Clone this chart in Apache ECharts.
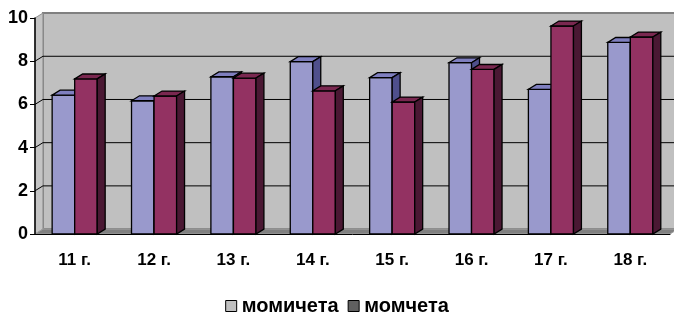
<!DOCTYPE html>
<html>
<head>
<meta charset="utf-8">
<script src="https://cdn.jsdelivr.net/npm/echarts@6/dist/echarts.min.js"></script>
<style>
    html, body { margin: 0; padding: 0; background: #fff; }
    #chart { width: 674px; height: 314px; }
</style>
</head>
<body>
<div id="chart"></div>
<script>
// ========================================
// data
// ========================================

const categories = ["11 г.", "12 г.", "13 г.", "14 г.", "15 г.", "16 г.", "17 г.", "18 г."];
const girls = [6.43, 6.17, 7.28, 7.98, 7.24, 7.93, 6.70, 8.87];
const boys = [7.18, 6.39, 7.22, 6.63, 6.11, 7.62, 9.63, 9.12];
const seriesNames = ["момичета", "момчета"];
const yMax = 10;
const yStep = 2;

// ========================================
// colours
// ========================================

const faces = [
    { front: "#9999cc", top: "#7f7fbf", side: "#4f4f8c", legend: "#c0c0c0" },
    { front: "#933262", top: "#7a2850", side: "#4a1833", legend: "#606060" }
];

// ========================================
// 3D bar
// ========================================

function barRenderer(s) {
    return function (params, api) {
        const idx = api.value(0);
        const val = api.value(1);
        const base = api.coord([idx, 0]);
        const top = api.coord([idx, val]);
        const band = api.size([1, 0])[0];
        const w = band * 0.284;
        const x0 = base[0] - w + s * w;
        const x1 = x0 + w;
        const dx = band * 0.1;
        const dy = dx * 0.62;
        const line = { stroke: "#000", lineWidth: 1.3 };
        return {
            type: "group",
            children: [
                {
                    type: "rect",
                    shape: { x: x0, y: top[1], width: w, height: base[1] - top[1] },
                    style: Object.assign({ fill: faces[s].front }, line)
                },
                {
                    type: "polygon",
                    shape: { points: [[x0, top[1]], [x1, top[1]], [x1 + dx, top[1] - dy], [x0 + dx, top[1] - dy]] },
                    style: Object.assign({ fill: faces[s].top }, line)
                },
                {
                    type: "polygon",
                    shape: { points: [[x1, top[1]], [x1 + dx, top[1] - dy], [x1 + dx, base[1] - dy], [x1, base[1]]] },
                    style: Object.assign({ fill: faces[s].side }, line)
                }
            ]
        };
    };
}

// ========================================
// walls + floor
// ========================================

function wallRenderer(params, api) {
    const cs = params.coordSys;
    const band = api.size([1, 0])[0];
    const dx = band * 0.1;
    const dy = dx * 0.62;
    const x = cs.x, y = cs.y, w = cs.width, h = cs.height;
    const children = [
        {
            type: "rect",
            shape: { x: x + dx, y: y - dy, width: w, height: h },
            style: { fill: "#c0c0c0", stroke: "#808080", lineWidth: 2 }
        },
        {
            type: "polygon",
            shape: { points: [[x, y], [x + dx, y - dy], [x + dx, y + h - dy], [x, y + h]] },
            style: { fill: "#c4c4c4", stroke: "#909090", lineWidth: 1 }
        },
        {
            type: "polygon",
            shape: { points: [[x, y + h], [x + dx, y + h - dy], [x + w + dx, y + h - dy], [x + w, y + h]] },
            style: { fill: "#808080", stroke: "#a0a0a0", lineWidth: 1 }
        }
    ];
    for (let v = yStep; v < yMax; v += yStep) {
        const gy = api.coord([0, v])[1];
        children.push({
            type: "polyline",
            shape: { points: [[x, gy], [x + dx, gy - dy], [x + w + dx, gy - dy]] },
            style: { stroke: "#000", lineWidth: 1, fill: null }
        });
    }
    return { type: "group", children: children };
}

// ========================================
// chart
// ========================================

const chart = echarts.init(document.getElementById("chart"));

chart.setOption({
    animation: false,
    textStyle: { fontFamily: "Liberation Sans, Arial, sans-serif" },
    grid: { left: 35, right: 4, top: 18, bottom: 80 },
    legend: {
        bottom: -7,
        left: "center",
        icon: "rect",
        itemWidth: 11,
        itemHeight: 11,
        itemGap: 9,
        selectedMode: false,
        textStyle: { fontWeight: "bold", fontSize: 20, color: "#000" },
        itemStyle: { borderColor: "#000", borderWidth: 1 },
        data: seriesNames
    },
    xAxis: {
        type: "category",
        data: categories,
        axisLine: { lineStyle: { color: "#000", width: 1 } },
        axisTick: { length: 4, lineStyle: { color: "#000" } },
        axisLabel: { color: "#000", fontWeight: "bold", fontSize: 17, margin: 18 },
        splitLine: { show: false }
    },
    yAxis: {
        type: "value",
        min: 0,
        max: yMax,
        interval: yStep,
        axisLine: { show: true, lineStyle: { color: "#000", width: 1.5 } },
        axisTick: { show: true, length: 5, lineStyle: { color: "#000" } },
        axisLabel: { color: "#000", fontWeight: "bold", fontSize: 18, margin: 7 },
        splitLine: { show: false }
    },
    series: [
        {
            name: "wall",
            type: "custom",
            z: -1,
            silent: true,
            renderItem: wallRenderer,
            data: [[0, 0]]
        },
        {
            name: seriesNames[0],
            type: "custom",
            itemStyle: { color: faces[0].legend, borderColor: "#000", borderWidth: 1 },
            renderItem: barRenderer(0),
            data: girls.map((v, i) => [i, v])
        },
        {
            name: seriesNames[1],
            type: "custom",
            itemStyle: { color: faces[1].legend, borderColor: "#000", borderWidth: 1 },
            renderItem: barRenderer(1),
            data: boys.map((v, i) => [i, v])
        }
    ]
});
</script>
</body>
</html>
